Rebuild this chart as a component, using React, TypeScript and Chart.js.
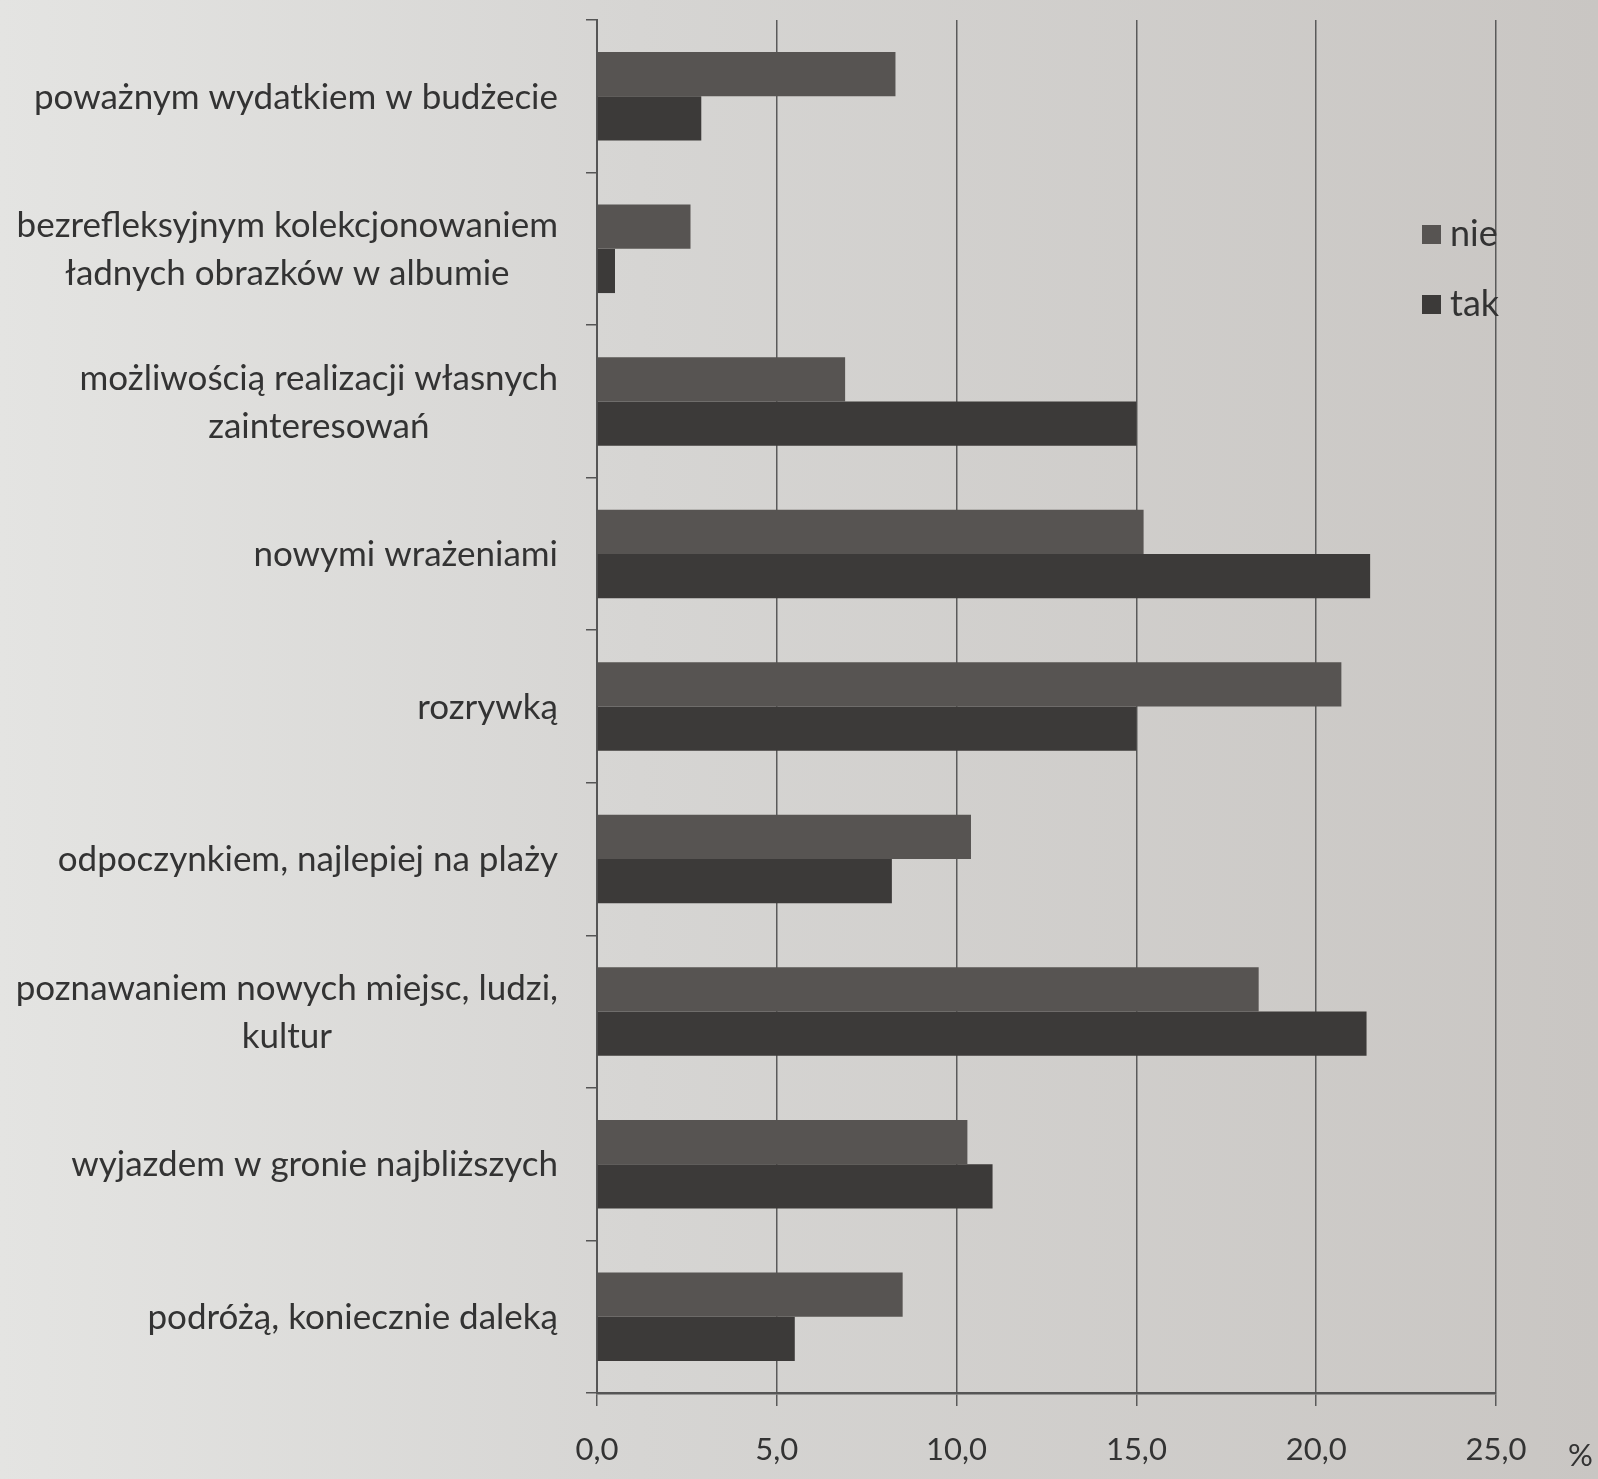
import React, { useEffect, useRef } from "react";
import { Chart, registerables } from "chart.js";

Chart.register(...registerables);

const categories: (string | string[])[] = [
  "poważnym wydatkiem w budżecie",
  ["bezrefleksyjnym kolekcjonowaniem", "ładnych obrazków w albumie"],
  ["możliwością realizacji własnych", "zainteresowań"],
  "nowymi wrażeniami",
  "rozrywką",
  "odpoczynkiem, najlepiej na plaży",
  ["poznawaniem nowych miejsc, ludzi,", "kultur"],
  "wyjazdem w gronie najbliższych",
  "podróżą, koniecznie daleką",
];

const nieValues = [8.3, 2.6, 6.9, 15.2, 20.7, 10.4, 18.4, 10.3, 8.5];
const takValues = [2.9, 0.5, 15.0, 21.5, 15.0, 8.2, 21.4, 11.0, 5.5];

const seriesNames = ["nie", "tak"];
const seriesColors = ["#575452", "#3c3a39"];

const FONT = "Lato";

const drawPlugin = {
  id: "customText",
  afterDraw(chart: any) {
    const ctx = chart.ctx;
    const y = chart.scales.y;
    const area = chart.chartArea;
    ctx.save();
    // category labels: block right-aligned, lines centered
    ctx.font = `35px ${FONT}`;
    ctx.fillStyle = "#333333";
    ctx.textBaseline = "middle";
    ctx.textAlign = "center";
    const lineH = 48;
    const rightEdge = y.right - 39;
    categories.forEach((lab, i) => {
      const lines = Array.isArray(lab) ? lab : [lab];
      const widest = Math.max(...lines.map((l) => ctx.measureText(l).width));
      const cy = y.getPixelForValue(i) + 1;
      lines.forEach((l, j) => {
        ctx.fillText(l, rightEdge - widest / 2, cy + (j - (lines.length - 1) / 2) * lineH);
      });
    });
    // percent sign
    ctx.font = `31px ${FONT}`;
    ctx.textAlign = "left";
    ctx.fillText("%", area.right + 72, area.bottom + 63);
    // legend
    ctx.font = `36px ${FONT}`;
    seriesNames.forEach((n, i) => {
      const ly = 234 + i * 70;
      ctx.fillStyle = seriesColors[i];
      ctx.fillRect(1422, ly - 9, 19, 19);
      ctx.fillStyle = "#333333";
      ctx.fillText(n, 1450, ly);
    });
    ctx.restore();
  },
};

export default function App() {
  const ref = useRef<HTMLCanvasElement>(null);
  useEffect(() => {
    if (!ref.current) return;
    const chart = new Chart(ref.current, {
      type: "bar",
      data: {
        labels: categories.map((c) => (Array.isArray(c) ? c.join(" ") : c)),
        datasets: [
          {
            label: seriesNames[0],
            data: nieValues,
            backgroundColor: seriesColors[0],
            categoryPercentage: 0.58,
            barPercentage: 1.0,
          },
          {
            label: seriesNames[1],
            data: takValues,
            backgroundColor: seriesColors[1],
            categoryPercentage: 0.58,
            barPercentage: 1.0,
          },
        ],
      },
      options: {
        indexAxis: "y",
        animation: false,
        responsive: false,
        devicePixelRatio: 1,
        layout: { padding: { top: 20, right: 102, left: 0, bottom: 0 } },
        plugins: { legend: { display: false }, tooltip: { enabled: false } },
        scales: {
          x: {
            min: 0,
            max: 25,
            ticks: {
              stepSize: 5,
              color: "#333333",
              font: { family: FONT, size: 31 },
              padding: 25,
              callback: (v: any) => Number(v).toFixed(1).replace(".", ","),
            },
            grid: { color: "#5a5a5a", lineWidth: 1.5, drawTicks: true, tickLength: 13 },
            border: { display: true, color: "#555555", width: 2.5 },
            afterFit: (s: any) => {
              s.height = 86;
            },
          },
          y: {
            ticks: { display: false },
            grid: {
              offset: true,
              drawOnChartArea: false,
              drawTicks: true,
              tickLength: 11,
              color: "#555555",
              lineWidth: 1.5,
            },
            border: { display: true, color: "#555555", width: 2 },
            afterFit: (s: any) => {
              s.width = 597;
            },
          },
        },
      },
      plugins: [drawPlugin],
    });
    return () => chart.destroy();
  }, []);
  return (
    <div
      style={{
        position: "absolute",
        left: 0,
        top: 0,
        width: 1598,
        height: 1479,
        background: "linear-gradient(90deg, #e4e4e2 0%, #d6d5d3 40%, #c9c6c3 100%)",
      }}
    >
      <canvas ref={ref} width={1598} height={1479} />
    </div>
  );
}
